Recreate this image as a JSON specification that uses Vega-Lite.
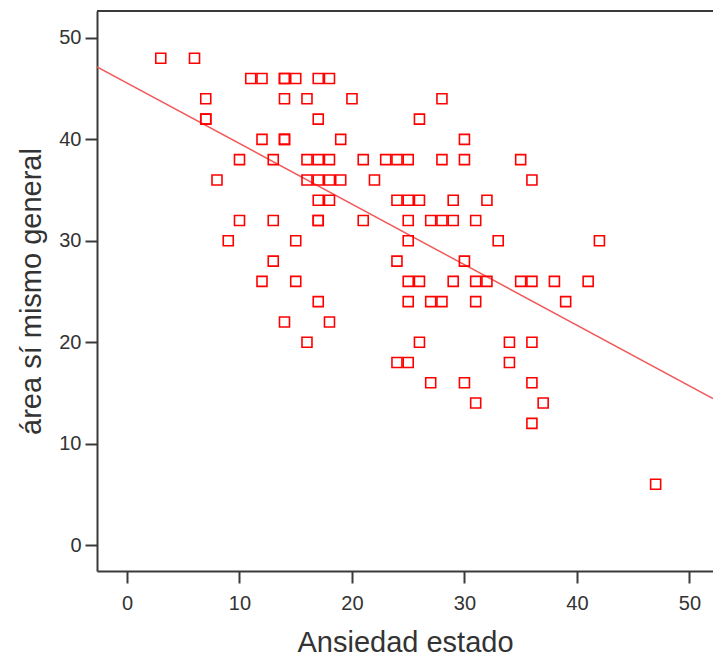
{
  "$schema": "https://vega.github.io/schema/vega-lite/v6.json",
  "width": 616,
  "height": 560,
  "autosize": "none",
  "padding": {"left": 97, "top": 11, "right": 0, "bottom": 91},
  "background": "white",
  "config": {
    "view": {"stroke": null},
    "axis": {
      "grid": false,
      "domainColor": "#3a3a3a",
      "domainWidth": 2,
      "tickColor": "#3a3a3a",
      "tickWidth": 2,
      "tickSize": 12,
      "labelFont": "Liberation Sans",
      "labelFontSize": 20,
      "labelColor": "#333333",
      "labelPadding": 4,
      "titleFont": "Liberation Sans",
      "titleFontSize": 29,
      "titleFontWeight": "normal",
      "titleColor": "#333333"
    }
  },
  "datasets": {
    "pts": [
      {"ansiedad": 3, "area": 48}, {"ansiedad": 6, "area": 48},
      {"ansiedad": 11, "area": 46}, {"ansiedad": 12, "area": 46}, {"ansiedad": 14, "area": 46}, {"ansiedad": 14, "area": 46}, {"ansiedad": 15, "area": 46}, {"ansiedad": 17, "area": 46}, {"ansiedad": 18, "area": 46},
      {"ansiedad": 7, "area": 44}, {"ansiedad": 14, "area": 44}, {"ansiedad": 16, "area": 44}, {"ansiedad": 20, "area": 44}, {"ansiedad": 28, "area": 44},
      {"ansiedad": 7, "area": 42}, {"ansiedad": 7, "area": 42}, {"ansiedad": 17, "area": 42}, {"ansiedad": 26, "area": 42},
      {"ansiedad": 12, "area": 40}, {"ansiedad": 14, "area": 40}, {"ansiedad": 14, "area": 40}, {"ansiedad": 19, "area": 40}, {"ansiedad": 30, "area": 40},
      {"ansiedad": 10, "area": 38}, {"ansiedad": 13, "area": 38}, {"ansiedad": 16, "area": 38}, {"ansiedad": 17, "area": 38}, {"ansiedad": 18, "area": 38}, {"ansiedad": 21, "area": 38}, {"ansiedad": 23, "area": 38}, {"ansiedad": 24, "area": 38}, {"ansiedad": 25, "area": 38}, {"ansiedad": 28, "area": 38}, {"ansiedad": 30, "area": 38}, {"ansiedad": 35, "area": 38},
      {"ansiedad": 8, "area": 36}, {"ansiedad": 16, "area": 36}, {"ansiedad": 17, "area": 36}, {"ansiedad": 18, "area": 36}, {"ansiedad": 19, "area": 36}, {"ansiedad": 22, "area": 36}, {"ansiedad": 36, "area": 36},
      {"ansiedad": 17, "area": 34}, {"ansiedad": 18, "area": 34}, {"ansiedad": 24, "area": 34}, {"ansiedad": 25, "area": 34}, {"ansiedad": 26, "area": 34}, {"ansiedad": 29, "area": 34}, {"ansiedad": 32, "area": 34},
      {"ansiedad": 10, "area": 32}, {"ansiedad": 13, "area": 32}, {"ansiedad": 17, "area": 32}, {"ansiedad": 17, "area": 32}, {"ansiedad": 21, "area": 32}, {"ansiedad": 25, "area": 32}, {"ansiedad": 27, "area": 32}, {"ansiedad": 28, "area": 32}, {"ansiedad": 29, "area": 32}, {"ansiedad": 31, "area": 32},
      {"ansiedad": 9, "area": 30}, {"ansiedad": 15, "area": 30}, {"ansiedad": 25, "area": 30}, {"ansiedad": 33, "area": 30}, {"ansiedad": 42, "area": 30},
      {"ansiedad": 13, "area": 28}, {"ansiedad": 24, "area": 28}, {"ansiedad": 30, "area": 28},
      {"ansiedad": 12, "area": 26}, {"ansiedad": 15, "area": 26}, {"ansiedad": 25, "area": 26}, {"ansiedad": 26, "area": 26}, {"ansiedad": 29, "area": 26}, {"ansiedad": 31, "area": 26}, {"ansiedad": 32, "area": 26}, {"ansiedad": 35, "area": 26}, {"ansiedad": 36, "area": 26}, {"ansiedad": 38, "area": 26}, {"ansiedad": 41, "area": 26},
      {"ansiedad": 17, "area": 24}, {"ansiedad": 25, "area": 24}, {"ansiedad": 27, "area": 24}, {"ansiedad": 28, "area": 24}, {"ansiedad": 31, "area": 24}, {"ansiedad": 39, "area": 24},
      {"ansiedad": 14, "area": 22}, {"ansiedad": 18, "area": 22},
      {"ansiedad": 16, "area": 20}, {"ansiedad": 26, "area": 20}, {"ansiedad": 34, "area": 20}, {"ansiedad": 36, "area": 20},
      {"ansiedad": 24, "area": 18}, {"ansiedad": 25, "area": 18}, {"ansiedad": 34, "area": 18},
      {"ansiedad": 27, "area": 16}, {"ansiedad": 30, "area": 16}, {"ansiedad": 36, "area": 16},
      {"ansiedad": 31, "area": 14}, {"ansiedad": 37, "area": 14},
      {"ansiedad": 36, "area": 12},
      {"ansiedad": 47, "area": 6}
    ],
    "fit": [
      {"ansiedad": -2.67, "area": 47.15},
      {"ansiedad": 52.1, "area": 14.45}
    ]
  },
  "layer": [
    {
      "data": {"name": "fit"},
      "mark": {"type": "line", "color": "#F05A5A", "strokeWidth": 1.5, "clip": true},
      "encoding": {
        "x": {"field": "ansiedad", "type": "quantitative", "scale": {"domain": [-2.67, 52.1], "nice": false, "zero": false},
              "axis": {"values": [0, 10, 20, 30, 40, 50], "title": "Ansiedad estado", "labelPadding": 10, "titlePadding": 15}},
        "y": {"field": "area", "type": "quantitative", "scale": {"domain": [-2.56, 52.66], "nice": false, "zero": false},
              "axis": {"values": [0, 10, 20, 30, 40, 50], "title": "área sí mismo general", "titlePadding": 12}}
      }
    },
    {
      "data": {"name": "pts"},
      "mark": {"type": "point", "shape": "square", "size": 100, "filled": false, "color": "#FF0000", "strokeWidth": 1.6, "opacity": 1},
      "encoding": {
        "x": {"field": "ansiedad", "type": "quantitative"},
        "y": {"field": "area", "type": "quantitative"}
      }
    },
    {
      "data": {"values": [{"top": 52.66}]},
      "mark": {"type": "rule", "color": "#3a3a3a", "strokeWidth": 2},
      "encoding": {"y": {"field": "top", "type": "quantitative"}}
    }
  ]
}
